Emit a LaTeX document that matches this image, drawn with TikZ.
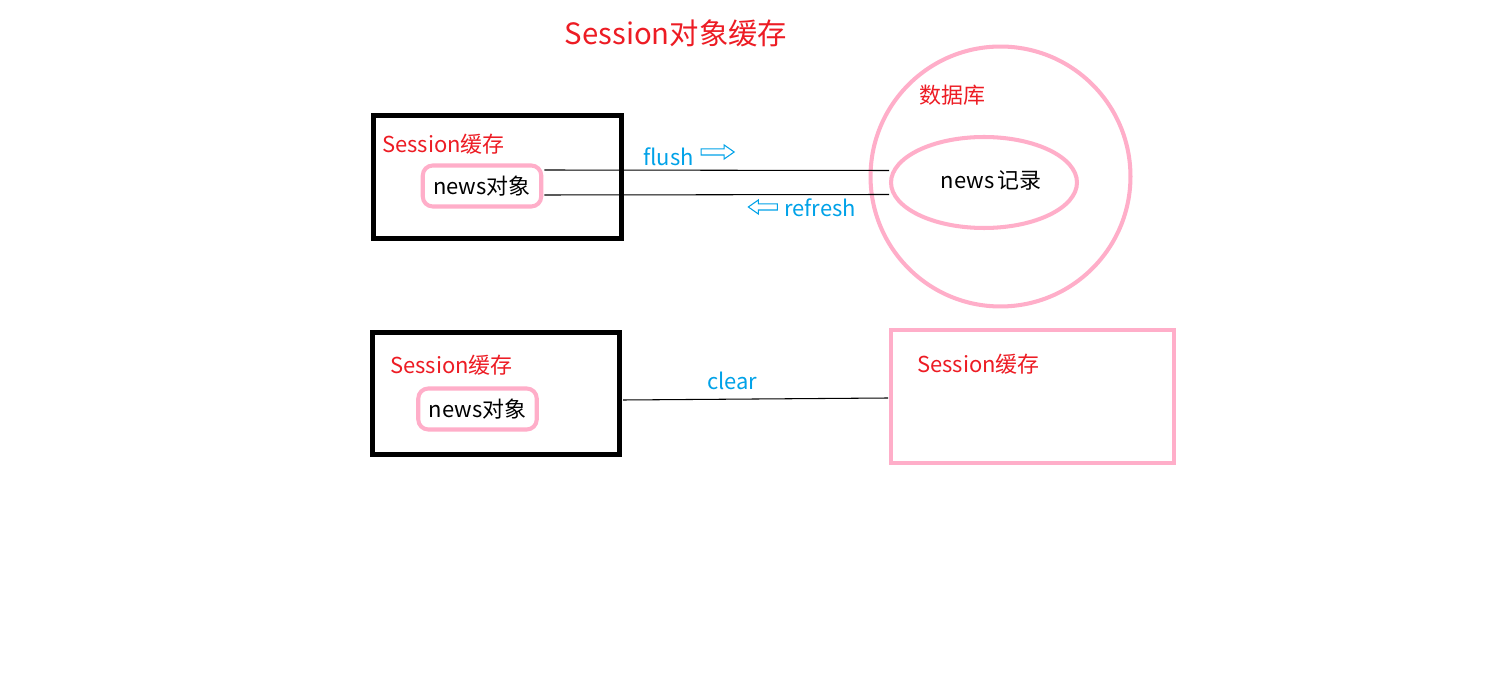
\documentclass[tikz,border=0pt]{standalone}
\usepackage{fontspec}
\setmainfont{Noto Sans CJK SC}
\usepackage{xcolor}
\usepackage{tikz}
\usetikzlibrary{calc,shapes.geometric,shapes.arrows}
\definecolor{red}{HTML}{ED1C24}
\definecolor{blue}{HTML}{00A2E8}
\definecolor{pink}{HTML}{FFAEC9}
\tikzset{
  cachebox/.style={draw=black, line width=2.7pt, minimum width=4.95cm, minimum height=2.45cm, inner sep=0pt},
  objbox/.style={draw=pink, line width=2.3pt, rounded corners=0.2cm, minimum width=2.37cm, minimum height=0.82cm, inner sep=0pt, font=\fontsize{12.5}{14}\selectfont},
  pinkline/.style={draw=pink, line width=2.3pt},
  thinline/.style={draw=black, line width=0.6pt},
  harrow/.style={shape=single arrow, draw=blue, line width=0.6pt, inner sep=0.05cm, minimum height=0.66cm, minimum width=0.26cm, single arrow head extend=0.08cm, single arrow tip angle=70},
  rlbl/.style={text=red, font=\fontsize{12.5}{14}\selectfont, inner sep=0pt, anchor=west},
  blbl/.style={text=blue, font=\fontsize{12.5}{14}\selectfont, inner sep=0pt, anchor=west},
  klbl/.style={text=black, font=\fontsize{12.5}{14}\selectfont, inner sep=0pt}
}
\begin{document}
\begin{tikzpicture}[x=0.02cm, y=-0.02cm]
  \useasboundingbox[fill=white] (0,0) rectangle (1508,692);

  \node[text=red, font=\fontsize{16.7}{20}\selectfont, inner sep=0pt] (title) at (676,33) {Session对象缓存};

  % upper row: session cache and database
  \node[cachebox] (cache1) at (497.5,177) {};
  \node[rlbl] (sess1) at (382,144) {Session缓存};
  \node[objbox] (obj1) at (482,186) {news对象};

  \node[circle, pinkline, minimum size=5.2cm, inner sep=0pt] (db) at (1000.5,176.5) {};
  \node[rlbl] (dblbl) at (919,95) {数据库};
  \node[ellipse, pinkline, minimum width=3.72cm, minimum height=1.82cm, inner sep=0pt] (rec) at (984,182.5) {};
  \node[klbl] (reclbl) at (991,180) {news\hspace{0.12em}记录};

  \draw[thinline] ($(obj1.east)+(1,-16)$) -- ($(rec.west)+(0,-12)$);
  \draw[thinline] ($(obj1.east)+(1,9)$) -- ($(rec.west)+(0,12)$);

  \node[blbl] (flush) at (643,157) {flush};
  \node[harrow] (flushar) at (715.5,152) {};
  \node[harrow, shape border rotate=180, minimum height=0.58cm] (refreshar) at (765,207) {};
  \node[blbl] (refresh) at (784,208) {refresh};

  % lower row: clear
  \node[cachebox] (cache2) at (496,393.5) {};
  \node[rlbl] (sess2) at (390,365) {Session缓存};
  \node[objbox] (obj2) at (477.5,409) {news对象};

  \node[pinkline, minimum width=5.66cm, minimum height=2.66cm, inner sep=0pt] (cache3) at (1032.5,396.5) {};
  \node[rlbl] (sess3) at (917,364) {Session缓存};

  \draw[thinline] ($(cache2.east)+(1,6.5)$) -- ($(cache3.west)+(-1,1.5)$);
  \node[blbl] (clear) at (707,381) {clear};
\end{tikzpicture}
\end{document}
